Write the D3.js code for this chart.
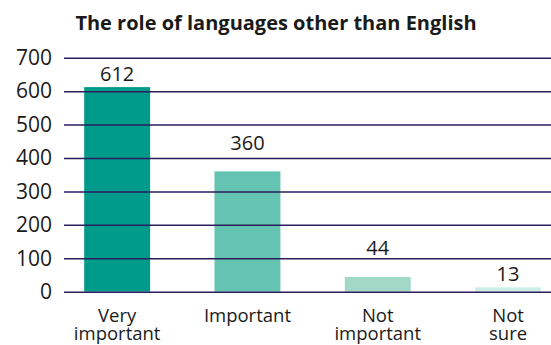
<!DOCTYPE html>
<html>
<head>
<meta charset="utf-8">
<script src="https://cdn.jsdelivr.net/npm/d3@7"></script>
<style>
  html, body { margin: 0; padding: 0; background: #ffffff; }
  svg { display: block; }
  text { font-family: "Open Sans", "Liberation Sans", sans-serif; fill: #1a1a1a; }
</style>
</head>
<body>
<svg id="chart" width="551" height="345"></svg>
<script>
// Survey answers: how important are languages other than English
const categories = ["Very important", "Important", "Not important", "Not sure"];
const counts = [612, 360, 44, 13];
const yTicks = [0, 100, 200, 300, 400, 500, 600, 700];

// Presentation settings
const barColors = ["#009b8a", "#64c4b1", "#a3d8c6", "#cbeee5"];
const labelLift = [6, 21, 22, 6];
const gridColor = "#2b1c5e";

const svg = d3.select("#chart");
const plot = { left: 64, right: 551, top: 57.7, bottom: 291.7 };

const x = d3.scaleBand()
  .domain(categories)
  .range([52, 573.2])
  .paddingInner(0.494)
  .paddingOuter(0.247);

const y = d3.scaleLinear()
  .domain([0, 700])
  .range([plot.bottom, plot.top]);

// Title
svg.append("text")
  .attr("x", 276)
  .attr("y", 29.5)
  .attr("text-anchor", "middle")
  .style("font-size", "20px")
  .style("font-weight", "700")
  .text("The role of languages other than English");

// Bars
svg.append("g")
  .selectAll("rect")
  .data(categories)
  .join("rect")
  .attr("x", d => x(d))
  .attr("width", x.bandwidth())
  .attr("y", (d, i) => y(counts[i]))
  .attr("height", (d, i) => y(0) - y(counts[i]))
  .attr("fill", (d, i) => barColors[i]);

// Horizontal gridlines with value labels on the left, drawn above the bars
const yAxis = svg.append("g")
  .attr("transform", `translate(${plot.left},0)`)
  .call(d3.axisLeft(y)
    .tickValues(yTicks)
    .tickSizeInner(-(plot.right - plot.left))
    .tickSizeOuter(0)
    .tickPadding(12));
yAxis.select(".domain").remove();
yAxis.selectAll(".tick line")
  .attr("stroke", gridColor)
  .attr("stroke-width", 1.5);
yAxis.selectAll(".tick text")
  .style("font-size", "21px")
  .style("font-family", "\"Open Sans\", \"Liberation Sans\", sans-serif")
  .attr("fill", "#1a1a1a");

// Value labels above each bar
svg.append("g")
  .selectAll("text")
  .data(categories)
  .join("text")
  .attr("x", d => x(d) + x.bandwidth() / 2)
  .attr("y", (d, i) => y(counts[i]) - labelLift[i])
  .attr("text-anchor", "middle")
  .style("font-size", "20px")
  .text((d, i) => counts[i]);

// Category labels, one text per line
const catLines = categories.flatMap(c =>
  c.split(" ").map((w, k) => ({ c, w, k })));
svg.append("g")
  .selectAll("text")
  .data(catLines)
  .join("text")
  .attr("x", d => x(d.c) + x.bandwidth() / 2)
  .attr("y", d => 321.5 + d.k * 18.5)
  .attr("text-anchor", "middle")
  .style("font-size", "18.5px")
  .text(d => d.w);
</script>
</body>
</html>
